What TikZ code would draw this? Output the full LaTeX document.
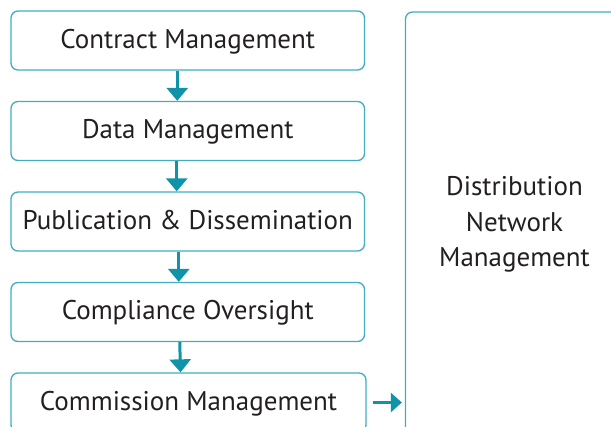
\documentclass[tikz,border=0pt]{standalone}
\usepackage{fontspec}
\setmainfont{PT Sans}
\usetikzlibrary{arrows.meta}
\definecolor{bordc}{HTML}{40ADC1}
\definecolor{arrc}{HTML}{0F93A8}
\definecolor{txtc}{HTML}{231F20}
\begin{document}
\begin{tikzpicture}[x=1pt,y=-1pt,
  box/.style={draw=bordc, line width=1.3pt, rounded corners=7pt, minimum width=353.5pt,
    minimum height=59pt, text=txtc, font=\fontsize{27}{35.5}\selectfont, inner sep=0pt},
  stepbox/.style={box, text height=19pt, text depth=3pt},
  arr/.style={draw=arrc, line width=3pt, -{Triangle[width=21pt,length=13pt]}},
  sidearr/.style={draw=arrc, line width=2.5pt, -{Triangle[width=19pt,length=11pt]}}]
\useasboundingbox (0,0) rectangle (611,427);
\clip (0,0) rectangle (611,427);
\node[stepbox] (b1) at (187.75,40.5) {Contract Management};
\node[stepbox] (b2) at (187.75,131) {Data Management};
\node[stepbox] (b3) at (187.75,221.5) {Publication \& Dissemination};
\node[stepbox] (b4) at (187.75,312) {Compliance Oversight};
\node[stepbox, minimum width=355pt] (b5) at (188.5,402.5) {Commission Management};
\node[box, minimum width=218pt, minimum height=425pt, align=center] (dn) at (514.5,224.5) {Distribution\\Network\\Management};
\draw[arr] ([xshift=-10.5pt]b1.south) -- ([xshift=-10.5pt]b2.north);
\draw[arr] ([xshift=-11pt]b2.south) -- ([xshift=-11pt]b3.north);
\draw[arr] ([xshift=-9pt]b3.south) -- ([xshift=-9pt]b4.north);
\draw[arr] ([xshift=-8pt]b4.south) -- ([xshift=-8pt]b5.north);
\draw[sidearr] ([xshift=6pt]b5.east) -- ([xshift=-3pt]b5.east -| dn.west);
\end{tikzpicture}
\end{document}
